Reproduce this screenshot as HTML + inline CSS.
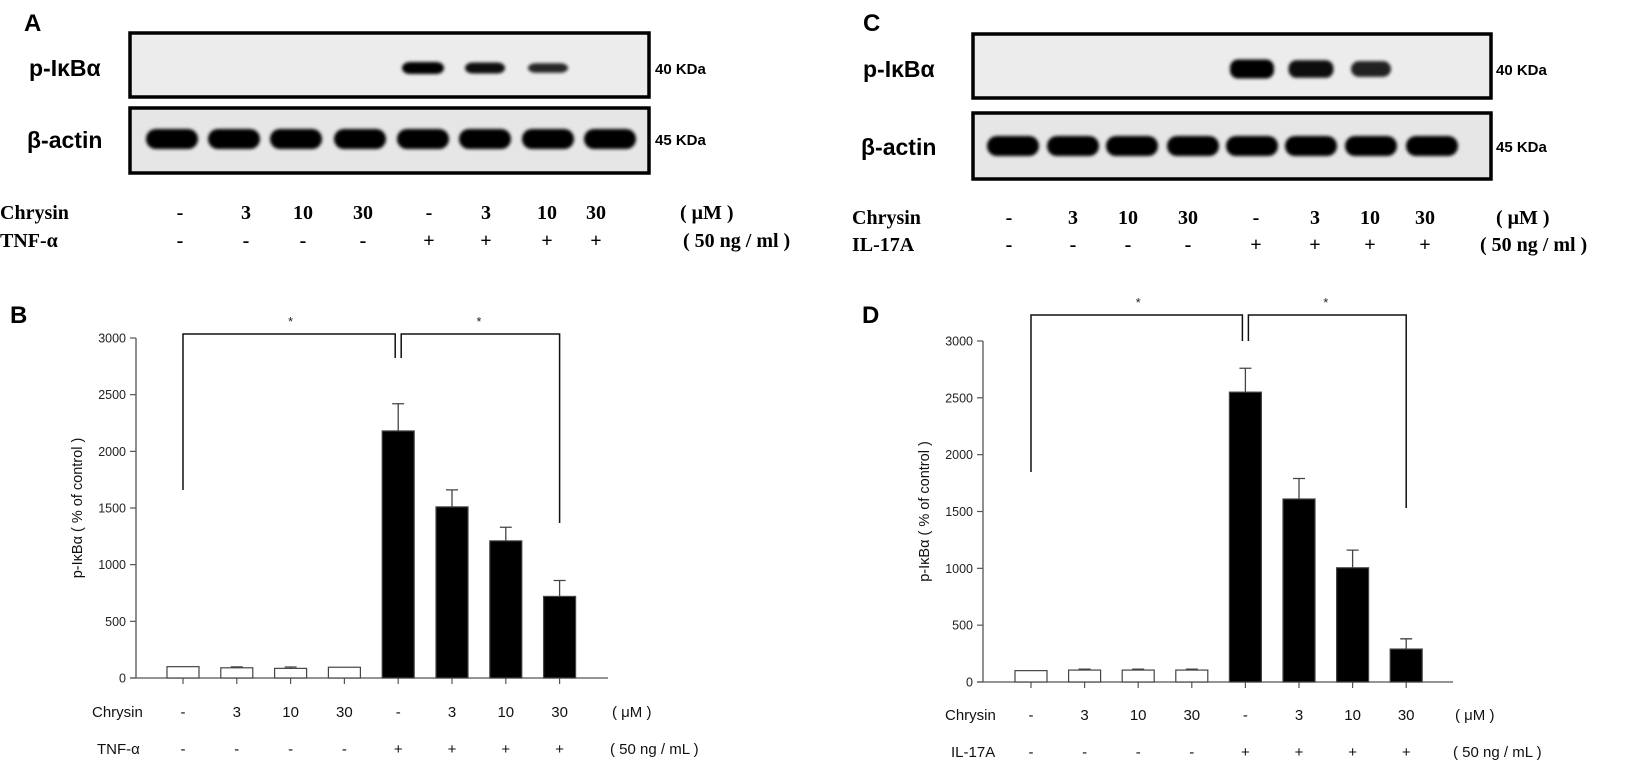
<!DOCTYPE html>
<html><head><meta charset="utf-8"><style>
html,body{margin:0;padding:0;background:#fff;}
svg{display:block;}
.blotlab{font-family:"Liberation Sans",sans-serif;font-weight:bold;font-size:23px;}
.kda{font-family:"Liberation Sans",sans-serif;font-weight:bold;font-size:15px;}
.cond{font-family:"Liberation Serif",serif;font-weight:bold;font-size:20px;}
.panel{font-family:"Liberation Sans",sans-serif;font-weight:bold;font-size:24px;}
.tick{font-family:"Liberation Sans",sans-serif;font-size:12.5px;fill:#222;}
.cat{font-family:"Liberation Sans",sans-serif;font-size:15px;fill:#111;}
.ylab{font-family:"Liberation Sans",sans-serif;font-size:14.5px;fill:#111;}
</style></head><body>
<svg id="fig" width="1645" height="760" viewBox="0 0 1645 760" xmlns="http://www.w3.org/2000/svg">
<defs><filter id="blur" x="-20%" y="-50%" width="140%" height="200%"><feGaussianBlur stdDeviation="1.6"/></filter></defs>
</svg>
<script>
const NS='http://www.w3.org/2000/svg';
const svg=document.getElementById('fig');
// ---- data ----
const categoriesB=['-','3','10','30','-','3','10','30'];
const stimB=['-','-','-','-','+','+','+','+'];
const valuesB=[100,90,85,95,2180,1510,1210,720];
const errorsB=[0,8,12,0,240,150,120,140];
const categoriesD=['-','3','10','30','-','3','10','30'];
const stimD=['-','-','-','-','+','+','+','+'];
const valuesD=[100,105,105,105,2550,1610,1005,290];
const errorsD=[0,8,8,8,210,180,155,90];
const yTicks=[0,500,1000,1500,2000,2500,3000];
const bandPA=[0,0,0,0,1.0,0.85,0.6,0];
const bandPC=[0,0,0,0,1.0,0.85,0.65,0];

function el(tag,attrs,parent,text){const e=document.createElementNS(NS,tag);for(const k in attrs)e.setAttribute(k,attrs[k]);if(text!==undefined)e.textContent=text;(parent||svg).appendChild(e);return e;}

function blot(cfg){
  const g=el('g',{});
  
  
  const p=el('text',{x:cfg.lx,y:cfg.ty+18,class:'panel'},g,cfg.letter);
  
  
  const b1=el('rect',{x:cfg.bx,y:cfg.y1,width:cfg.bw,height:cfg.h1,fill:'#ececec',stroke:'#000','stroke-width':3.5},g);
  
  
  const b2=el('rect',{x:cfg.bx,y:cfg.y2,width:cfg.bw,height:cfg.h2,fill:'#e6e6e6',stroke:'#000','stroke-width':3.5},g);
  
  
  cfg.lanes.forEach((cx,i)=>{
    const a=cfg.bandP[i];
    if(a>0){const e=el('rect',{x:cx-cfg.pw[i]/2,y:cfg.py-cfg.ph*(0.5+a*0.5)/2,width:cfg.pw[i],height:cfg.ph*(0.5+a*0.5),rx:8,fill:'#000',opacity:Math.min(1,0.6+a*0.4),filter:'url(#blur)'},g);
      
      }
    const e2=el('rect',{x:cx-26,y:cfg.ay-10,width:52,height:20,rx:10,fill:'#000',filter:'url(#blur)'},g);
    
    
  });
  const t1=el('text',{x:cfg.tx,y:cfg.py+8,class:'blotlab'},g,'p-IκBα');
  
  
  const t2=el('text',{x:cfg.tx-2,y:cfg.ay+9,class:'blotlab'},g,'β-actin');
  
  
  const k1=el('text',{x:cfg.kx,y:cfg.py+6,class:'kda'},g,'40 KDa');
  
  
  const k2=el('text',{x:cfg.kx,y:cfg.ay+6,class:'kda'},g,'45 KDa');
  
  
  const c1=el('text',{x:cfg.cx0,y:cfg.cy1,class:'cond'},g,'Chrysin');
  
  
  const c2=el('text',{x:cfg.cx0,y:cfg.cy2,class:'cond'},g,cfg.stim);
  
  
  cfg.labX.forEach((x,i)=>{
    const a=el('text',{x:x,y:cfg.cy1,class:'cond','text-anchor':'middle'},g,cfg.cats[i]);
    
    
    const b=el('text',{x:x,y:cfg.cy2,class:'cond','text-anchor':'middle'},g,cfg.stims[i]);
    
    
  });
  const u1=el('text',{x:cfg.ux,y:cfg.cy1,class:'cond'},g,'( μM )');
  
  
  const u2=el('text',{x:cfg.ux2,y:cfg.cy2,class:'cond'},g,'( 50 ng / ml )');
  
  
}

blot({name:'blot-a',letter:'A',lx:24,ty:13,bx:130,bw:519,y1:33,h1:64,y2:108,h2:65,
  lanes:[172,234,296,360,423,485,548,610],bandP:bandPA,pw:[0,0,0,0,42,40,40,0],py:68,ph:12,ay:139,
  tx:29,kx:655,cx0:0,cy1:219,cy2:247,stim:'TNF-α',cats:categoriesB,stims:stimB,
  labX:[180,246,303,363,429,486,547,596],ux:680,ux2:683});
blot({name:'blot-c',letter:'C',lx:863,ty:13,bx:973,bw:518,y1:34,h1:64,y2:113,h2:66,
  lanes:[1013,1073,1132,1193,1252,1311,1371,1432],bandP:bandPC,pw:[0,0,0,0,44,45,40,0],py:69,ph:19,ay:146,
  tx:863,kx:1496,cx0:852,cy1:224,cy2:251,stim:'IL-17A',cats:categoriesD,stims:stimD,
  labX:[1009,1073,1128,1188,1256,1315,1370,1425],ux:1496,ux2:1480});

function chart(cfg,cats,stims,vals,errs){
  const g=el('g',{});
  
  
  const x0=cfg.ax,y0=cfg.y0,y3=cfg.y3000;
  const yS=v=>y0-(v/3000)*(y0-y3);
  const xS=i=>cfg.x0+i*cfg.step;
  const L=el('text',{x:cfg.lx,y:cfg.ly,class:'panel'},g,cfg.letter);
  
  
  const ya=el('line',{x1:x0,y1:y3,x2:x0,y2:y0,stroke:'#555','stroke-width':1.3},g);
  
  
  const xa=el('line',{x1:x0-6,y1:y0,x2:cfg.axEnd,y2:y0,stroke:'#555','stroke-width':1.3},g);
  
  
  yTicks.forEach(t=>{
    el('line',{x1:x0-6,y1:yS(t),x2:x0,y2:yS(t),stroke:'#555','stroke-width':1.2},g);
    const tl=el('text',{x:x0-10,y:yS(t)+4.5,class:'tick','text-anchor':'end'},g,String(t));
    
    
  });
  const yl=el('text',{x:0,y:0,class:'ylab','text-anchor':'middle',transform:`translate(${cfg.ylx},${(y0+y3)/2}) rotate(-90)`},g,'p-IκBα ( % of control )');
  
  
  vals.forEach((v,i)=>{
    const cx=xS(i),w=32;
    el('line',{x1:cx,y1:y0,x2:cx,y2:y0+6,stroke:'#555','stroke-width':1.2},g);
    if(errs[i]>0){
      const e=el('path',{d:`M${cx} ${yS(v)} V${yS(v+errs[i])} M${cx-6} ${yS(v+errs[i])} H${cx+6}`,stroke:'#444','stroke-width':1.3,fill:'none'},g);
      
      
    }
    const r=el('rect',{x:cx-w/2,y:yS(v),width:w,height:y0-yS(v),fill:stims[i]==='+'?'#000':'#fff',stroke:'#444','stroke-width':1.2},g);
    
    
    const c=el('text',{x:cx,y:cfg.cy1,class:'cat','text-anchor':'middle'},g,cats[i]);
    
    
    const s=el('text',{x:cx,y:cfg.cy2,class:'cat','text-anchor':'middle'},g,stims[i]);
    
    
  });
  const rl1=el('text',{x:cfg.clx,y:cfg.cy1,class:'cat'},g,'Chrysin');
  
  
  const rl2=el('text',{x:cfg.clx+cfg.sdx,y:cfg.cy2,class:'cat'},g,cfg.stim);
  
  
  const u1=el('text',{x:cfg.ux,y:cfg.cy1,class:'cat'},g,'( μM )');
  
  
  const u2=el('text',{x:cfg.ux-2,y:cfg.cy2,class:'cat'},g,'( 50 ng / mL )');
  
  
  const xa0=xS(0),xm=xS(4),xe=xS(7);
  const br=el('path',{d:`M${xa0} ${cfg.lb} V${cfg.bt} H${xm-3} V${cfg.mb} M${xm+3} ${cfg.mb} V${cfg.bt} H${xe} V${cfg.rb}`,stroke:'#111','stroke-width':1.5,fill:'none'},g);
  
  
  [(xa0+xm)/2,(xm+xe)/2].forEach(x=>{
    const s=el('text',{x:x,y:cfg.bt-8,class:'tick','text-anchor':'middle'},g,'*');
    
    
  });
}
chart({name:'chart-b',letter:'B',lx:10,ly:323,ax:136,y0:678,y3000:338,x0:183,step:53.8,axEnd:608,ylx:82,
  cy1:717,cy2:754,clx:92,sdx:5,stim:'TNF-α',ux:612,bt:334,lb:490,mb:358,rb:523},categoriesB,stimB,valuesB,errorsB);
chart({name:'chart-d',letter:'D',lx:862,ly:323,ax:983,y0:682,y3000:341,x0:1031,step:53.6,axEnd:1453,ylx:929,
  cy1:720,cy2:757,clx:945,sdx:6,stim:'IL-17A',ux:1455,bt:315,lb:472,mb:341,rb:508},categoriesD,stimD,valuesD,errorsD);
</script>
</body></html>
